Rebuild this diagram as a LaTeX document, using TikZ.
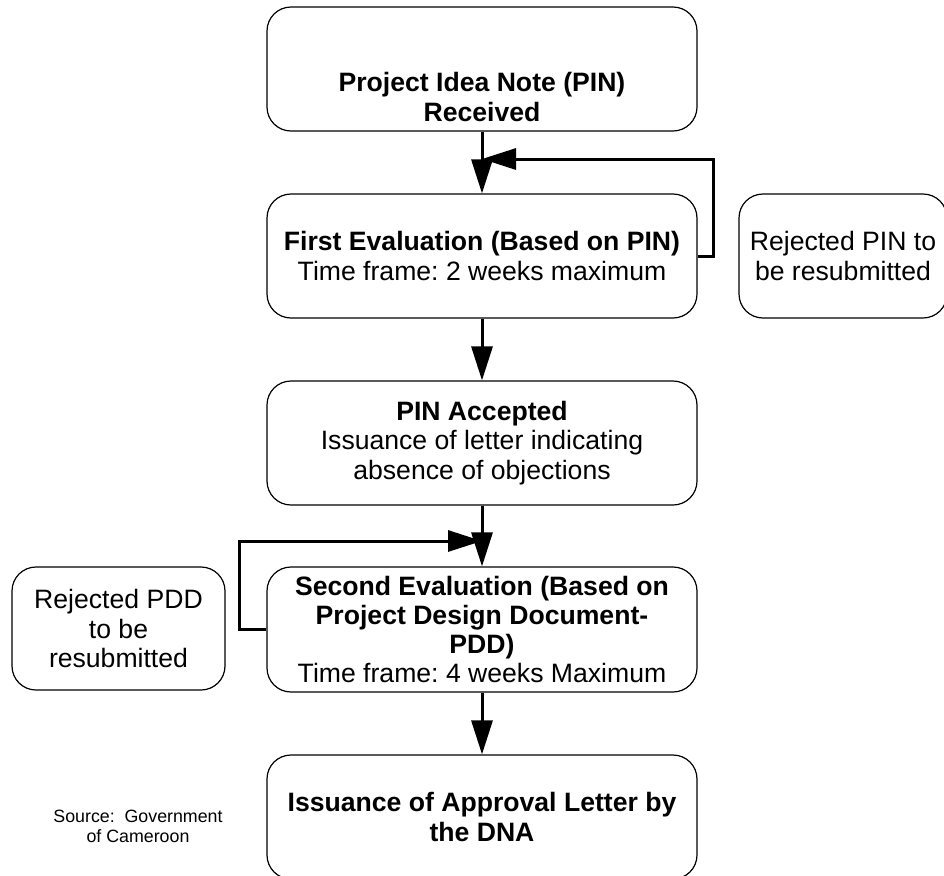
\documentclass[tikz,border=0pt]{standalone}
\usepackage{fontspec}
\setmainfont{Liberation Sans}
\usetikzlibrary{arrows.meta}
\frenchspacing

\begin{document}
\begin{tikzpicture}[x=0.5pt,y=-0.5pt,
  boxtext/.style={align=center,font=\fontsize{13.3}{14.6}\selectfont},
  stepnode/.style={boxtext,draw,rounded corners=12pt,line width=0.6pt,
    minimum width=215pt,minimum height=62pt,inner sep=2pt},
  sidenode/.style={stepnode,minimum width=104pt},
  flow/.style={line width=1.5pt,-{Triangle[length=17pt,width=10.5pt]}}]
  \useasboundingbox (0,0) rectangle (944,875);

  \node[stepnode] (received) at (482,69) {};
  \node[boxtext,font=\fontsize{13.3}{14.8}\selectfont\bfseries] (receivedtext) at (482,97)
    {Project Idea Note (PIN)\\Received};
  \node[stepnode] (firsteval) at (482,256)
    {\textbf{First Evaluation (Based on PIN)}\\Time frame: 2 weeks maximum};
  \node[sidenode] (rejectpin) at (843,256) {Rejected PIN to\\be resubmitted};
  \node[stepnode] (accepted) at (482,443)
    {\textbf{PIN Accepted}\\Issuance of letter indicating\\absence of objections};
  \node[stepnode,minimum height=62.5pt] (secondeval) at (482,629.5)
    {\textbf{Second Evaluation (Based on}\\\textbf{Project Design Document-}\\\textbf{PDD)}\\Time frame: 4 weeks Maximum};
  \node[sidenode,minimum width=106.5pt,minimum height=61.5pt] (rejectpdd) at (118.5,628.5)
    {Rejected PDD\\to be\\resubmitted};
  \node[stepnode] (approval) at (482,817)
    {\textbf{Issuance of Approval Letter by}\\\textbf{the DNA}};
  \node[align=center,font=\fontsize{8.9}{10}\selectfont] (source) at (138,826)
    {Source:\ \ Government\\of Cameroon};

  \coordinate (pinjoin) at (482,159);
  \coordinate (accjoin) at (482,541);

  \draw[flow] (received) -- (firsteval);
  \draw[flow] (firsteval) -- (accepted);
  \draw[flow] (accepted) -- (secondeval);
  \draw[flow] (secondeval) -- (approval);
  \draw[flow] (firsteval.east) -- ++(16,0) |- (pinjoin);
  \draw[flow] (secondeval.west) -- ++(-27,0) |- (accjoin);
\end{tikzpicture}
\end{document}
